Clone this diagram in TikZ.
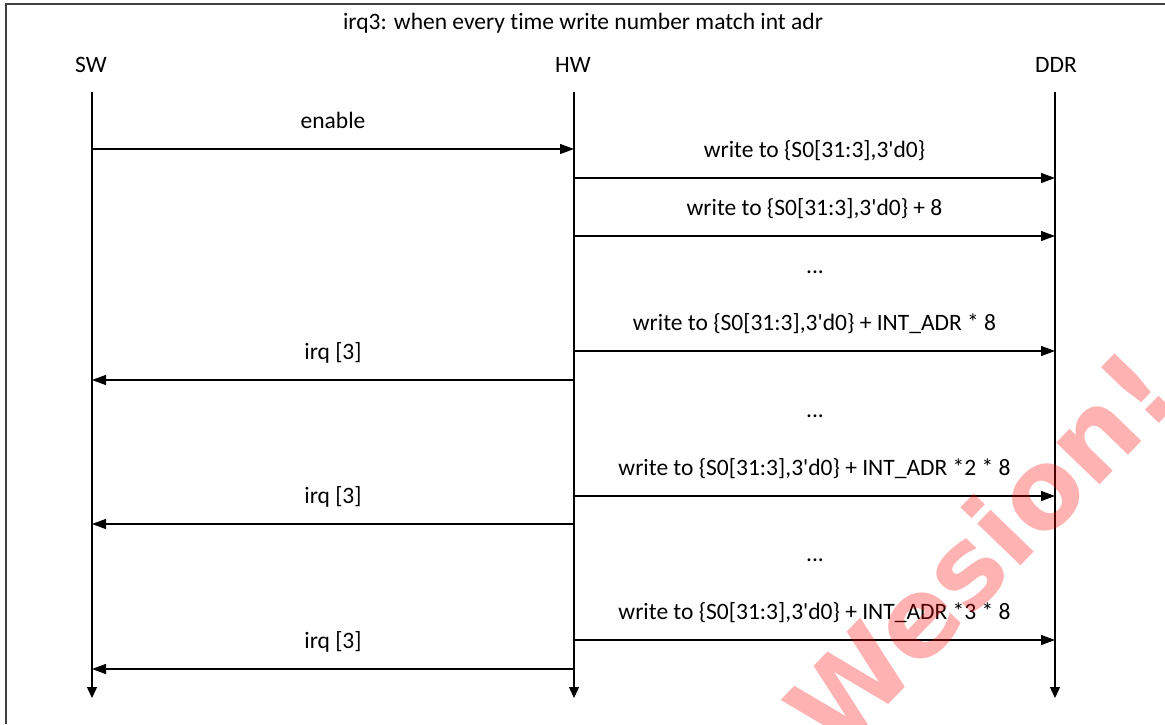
\documentclass[tikz,border=0pt]{standalone}
\usepackage{fontspec}
\setmainfont{Carlito}[Ligatures={TeX,NoCommon}]
\newfontfamily\wmfont{DejaVu Sans}
\usetikzlibrary{arrows.meta}
\newcommand{\apo}{\textquotesingle}
\begin{document}
\begin{tikzpicture}[x=1pt,y=-1pt,
  lbl/.style={font=\fontsize{23.5}{26}\selectfont, inner sep=0pt, anchor=base},
  life/.style={line width=1.3pt, -{Triangle[length=11pt,width=10pt]}},
  msg/.style={line width=1.2pt, -{Triangle[length=14pt,width=10pt]}},
  frame/.style={line width=2pt, draw=black!75}]
\useasboundingbox (0,0) rectangle (1165,724);
\fill[white] (0,0) rectangle (1165,724);
% frame
\draw[frame] (6,724) -- (6,4) -- (1165,4);
% title and heads
\node[lbl] (title) at (583,29) {irq3: when every time write number match int adr};
\node[lbl] (sw) at (91,72) {SW};
\node[lbl] (hw) at (573,72) {HW};
\node[lbl] (ddr) at (1056,72) {DDR};
% lifelines
\coordinate (swt) at (92,92);  \coordinate (swb) at (92,698);
\coordinate (hwt) at (574,92); \coordinate (hwb) at (574,698);
\coordinate (ddt) at (1055,92); \coordinate (ddb) at (1055,698);
\draw[life] (swt) -- (swb);
\draw[life] (hwt) -- (hwb);
\draw[life] (ddt) -- (ddb);
% message anchor points
\foreach \n/\y in {1/149,2/178,3/236,4/351,5/380,6/496,7/524,8/640,9/669}{
  \coordinate (s\n) at (92,\y);
  \coordinate (h\n) at (574,\y);
  \coordinate (d\n) at (1055,\y);
}
% messages
\draw[msg] (s1) -- node[lbl, pos=0.5, yshift=21pt] (m1) {enable} (h1);
\draw[msg] (h2) -- node[lbl, pos=0.5, yshift=21pt] (m2) {write to {\{}S0[31:3],3\apo d0{\}}} (d2);
\draw[msg] (h3) -- node[lbl, pos=0.5, yshift=21pt] (m3) {write to {\{}S0[31:3],3\apo d0{\}} + 8} (d3);
\node[lbl] (dots1) at (815,273) {...};
\draw[msg] (h4) -- node[lbl, pos=0.5, yshift=21pt] (m4) {write to {\{}S0[31:3],3\apo d0{\}} + INT\_ADR * 8} (d4);
\draw[msg] (h5) -- node[lbl, pos=0.5, yshift=21pt] (m5) {irq [3]} (s5);
\node[lbl] (dots2) at (815,417) {...};
\draw[msg] (h6) -- node[lbl, pos=0.5, yshift=21pt] (m6) {write to {\{}S0[31:3],3\apo d0{\}} + INT\_ADR *2 * 8} (d6);
\draw[msg] (h7) -- node[lbl, pos=0.5, yshift=21pt] (m7) {irq [3]} (s7);
\node[lbl] (dots3) at (815,561) {...};
\draw[msg] (h8) -- node[lbl, pos=0.5, yshift=21pt] (m8) {write to {\{}S0[31:3],3\apo d0{\}} + INT\_ADR *3 * 8} (d8);
\draw[msg] (h9) -- node[lbl, pos=0.5, yshift=21pt] (m9) {irq [3]} (s9);
% watermark
\node[text=red, opacity=0.3, rotate=46, font=\wmfont\bfseries\fontsize{110}{110}\selectfont, inner sep=0pt] (wm) at (980,550) {Wesion!};
\end{tikzpicture}
\end{document}
